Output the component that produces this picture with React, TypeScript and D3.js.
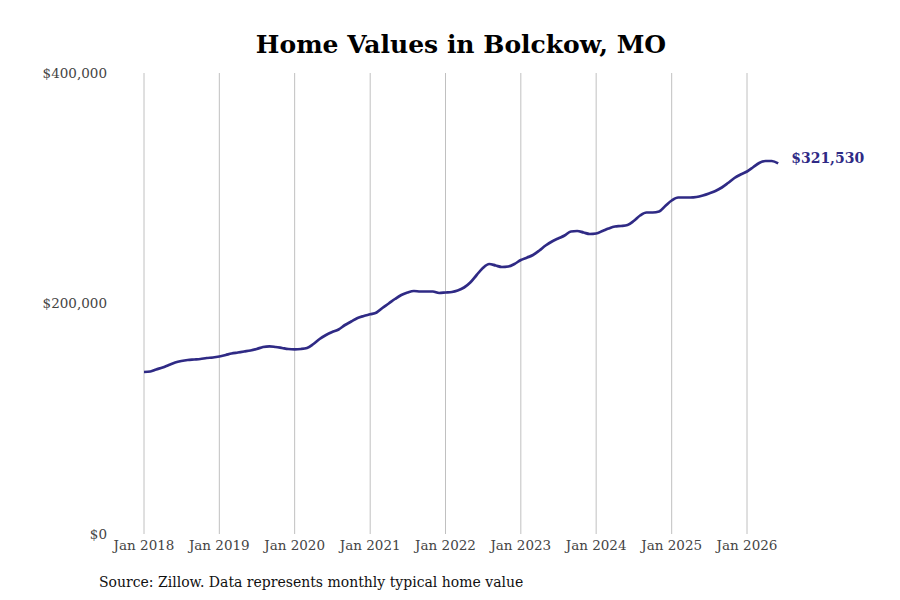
import React, { useEffect, useRef } from "react";
import * as d3 from "d3";

// Monthly typical home value, Jan 2018 .. Jun 2026
const startMonth = "2018-01-01";
const homeValues: number[] = [
    // 2018
    140564, 141000, 142733, 144469, 146638, 148807, 150109, 150976, 151410, 151844, 152712, 153146,
    // 2019
    154013, 155315, 156616, 157484, 158352, 159219, 160521, 162256, 162864, 162256, 161388, 160521,
    // 2020
    160261, 160521, 161388, 164859, 169198, 172668, 175271, 177441, 181345, 184382, 187419, 189154,
    // 2021
    190629, 192191, 196096, 200000, 203905, 207376, 209545, 210846, 210412, 210412, 210412, 209111,
    // 2022
    209545, 209979, 211280, 213883, 218222, 224729, 230803, 234274, 232972, 231671, 232104, 234274,
    // 2023
    237744, 239914, 242083, 245988, 250326, 253796, 256399, 259002, 262473, 262907, 261605, 260304,
    // 2024
    260738, 262907, 265076, 266812, 267245, 268113, 271584, 276356, 278959, 278959, 279827, 284599,
    // 2025
    289371, 291974, 291974, 291974, 292408, 293710, 295445, 297614, 300651, 304556, 308894, 311931,
    // 2026
    314534, 318439, 321909, 323645, 323645, 321530,
];

const tickYears = [2018, 2019, 2020, 2021, 2022, 2023, 2024, 2025, 2026];
const yTicks = [0, 200000, 400000];

const title = "Home Values in Bolckow, MO";
const source = "Source: Zillow. Data represents monthly typical home value";

interface Point {
    date: Date;
    value: number;
}

const LineChart: React.FC = () => {
    const svgRef = useRef<SVGSVGElement>(null);
    const width = 900;
    const height = 600;

    useEffect(() => {
        if (!svgRef.current) return;

        const start = new Date(startMonth + "T00:00:00");
        const data: Point[] = homeValues.map((v, i) => ({
            date: d3.timeMonth.offset(start, i),
            value: v,
        }));

        const xScale = d3
            .scaleTime()
            .domain([new Date(2018, 0, 1), new Date(2026, 0, 1)])
            .range([144, 747]);

        const yScale = d3.scaleLinear().domain([0, 400000]).range([534, 73]);

        const svg = d3.select(svgRef.current);
        svg.selectAll("*").remove();

        const font = "'DejaVu Serif', serif";

        // Title
        svg.append("text")
            .attr("x", 461)
            .attr("y", 53)
            .attr("text-anchor", "middle")
            .attr("font-family", font)
            .attr("font-weight", "bold")
            .attr("font-size", 25)
            .attr("fill", "#000")
            .text(title);

        // Vertical gridlines
        svg.append("g")
            .selectAll("line")
            .data(tickYears)
            .join("line")
            .attr("x1", d => xScale(new Date(d, 0, 1)))
            .attr("x2", d => xScale(new Date(d, 0, 1)))
            .attr("y1", yScale(400000))
            .attr("y2", yScale(0))
            .attr("stroke", "#c0c0c0")
            .attr("stroke-width", 1);

        // X labels
        svg.append("g")
            .selectAll("text")
            .data(tickYears)
            .join("text")
            .attr("x", d => xScale(new Date(d, 0, 1)))
            .attr("y", 550)
            .attr("text-anchor", "middle")
            .attr("font-family", font)
            .attr("font-size", 13.5)
            .attr("fill", "#444")
            .text(d => `Jan ${d}`);

        // Y labels
        svg.append("g")
            .selectAll("text")
            .data(yTicks)
            .join("text")
            .attr("x", 107)
            .attr("y", d => yScale(d))
            .attr("dy", "0.35em")
            .attr("text-anchor", "end")
            .attr("font-family", font)
            .attr("font-size", 13.5)
            .attr("fill", "#444")
            .text(d => d3.format("$,")(d));

        // Line
        const line = d3
            .line<Point>()
            .x(d => xScale(d.date))
            .y(d => yScale(d.value))
            .curve(d3.curveMonotoneX);

        svg.append("path")
            .datum(data)
            .attr("fill", "none")
            .attr("stroke", "#2f2a85")
            .attr("stroke-width", 2.7)
            .attr("stroke-linejoin", "round")
            .attr("d", line);

        // End label
        const last = data[data.length - 1];
        svg.append("text")
            .attr("x", xScale(last.date) + 13)
            .attr("y", yScale(last.value) - 5)
            .attr("dy", "0.35em")
            .attr("font-family", font)
            .attr("font-weight", "bold")
            .attr("font-size", 14)
            .attr("fill", "#2f2a85")
            .text(d3.format("$,")(last.value));

        // Source note
        svg.append("text")
            .attr("x", 99)
            .attr("y", 587)
            .attr("font-family", font)
            .attr("font-size", 14)
            .attr("fill", "#111")
            .text(source);
    }, []);

    return (
        <svg
            ref={svgRef}
            width={width}
            height={height}
            style={{ position: "absolute", left: 0, top: 0, background: "#fff" }}
        ></svg>
    );
};

export default function App() {
    return <LineChart />;
}
